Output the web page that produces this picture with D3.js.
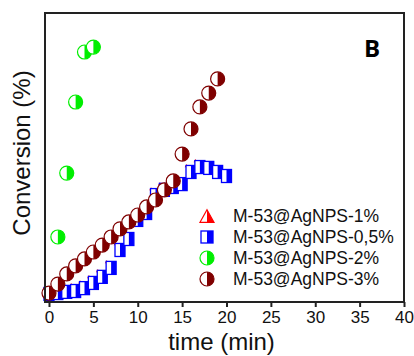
<!DOCTYPE html>
<html>
<head>
<meta charset="utf-8">
<script src="https://cdn.jsdelivr.net/npm/d3@7"></script>
<style>
  body { margin: 0; background: #fff; }
  text { font-family: "Liberation Sans", Arial, sans-serif; }
</style>
</head>
<body>
<script>
// data (conversion in %, time in min)
var timeBlue = [0, 1, 2, 3, 4, 5, 6, 7, 8, 9, 10, 11, 12, 13, 14, 15, 16, 17, 18, 19, 20];
var convBlue = [2.8, 3.1, 3.5, 3.8, 4.8, 6.6, 8.7, 11.8, 18.0, 21.8, 28.4, 30.8, 37.0, 38.8, 39.8, 40.8, 45.0, 46.7, 46.4, 45.0, 43.6];

var timeRed = [-0.5, 0.5, 1.5, 2.5, 3.5, 4.5, 5.5, 6.5, 7.5, 8.5, 9.5, 10.5, 11.5, 12.5, 13.5, 14.5, 15.5, 16.5, 17.5, 18.5, 19.5];
var convRed = [4.8, 5.1, 5.5, 5.8, 6.8, 8.6, 10.7, 13.8, 20.0, 23.8, 30.4, 32.8, 39.0, 40.8, 41.8, 42.8, 47.0, 48.7, 48.4, 47.0, 45.6];

var timeGreen = [1, 2, 3, 4, 5];
var convGreen = [22.5, 44.6, 69.2, 86.5, 88.2];

var timeBrown = [0, 1, 2, 3, 4, 5, 6, 7, 8, 9, 10, 11, 12, 13, 14, 15, 16, 17, 18, 19];
var convBrown = [3.1, 6.2, 9.7, 12.5, 14.9, 17.3, 19.7, 22.5, 25.3, 27.7, 30.1, 32.9, 35.3, 38.8, 41.9, 51.2, 59.9, 67.5, 72.3, 77.2];

var xTicks = [0, 5, 10, 15, 20, 25, 30, 35, 40];
var legendLabels = ["M-53@AgNPS-1%", "M-53@AgNPS-0,5%", "M-53@AgNPS-2%", "M-53@AgNPS-3%"];

var width = 414, height = 356;
var mLeft = 45, mRight = 404, mTop = 13, mBottom = 302;

var svg = d3.select("body").append("svg")
    .attr("width", width)
    .attr("height", height);

var x = d3.scaleLinear().domain([-0.45, 40]).range([mLeft, mRight]);
var y = d3.scaleLinear().domain([0, 100]).range([mBottom, mTop]);

// half-filled markers: left half white, right half coloured
function circleMark(g, color, r) {
    g.append("circle").attr("r", r).attr("fill", "#fff").attr("stroke", color).attr("stroke-width", 1.2);
    g.append("path").attr("d", "M0," + (-r) + "A" + r + "," + r + " 0 0 1 0," + r + "Z").attr("fill", color);
}
function squareMark(g, color, w, h) {
    g.append("rect").attr("x", -w / 2).attr("y", -h / 2).attr("width", w).attr("height", h)
        .attr("fill", "#fff").attr("stroke", color).attr("stroke-width", 1.3);
    g.append("rect").attr("x", 0).attr("y", -h / 2).attr("width", w / 2).attr("height", h).attr("fill", color);
}
function triMark(g, color, s) {
    var h = s * 0.9;
    g.append("path").attr("d", "M0," + (-h / 2) + "L" + (s / 2) + "," + (h / 2) + "L" + (-s / 2) + "," + (h / 2) + "Z")
        .attr("fill", "#fff").attr("stroke", color).attr("stroke-width", 1.2);
    g.append("path").attr("d", "M0," + (-h / 2) + "L" + (s / 2) + "," + (h / 2) + "L0," + (h / 2) + "Z").attr("fill", color);
}

var plot = svg.append("g");

// red tiny triangles
plot.selectAll(".red").data(d3.zip(timeRed, convRed)).enter().append("path")
    .attr("class", "red")
    .attr("transform", d => "translate(" + x(d[0]) + "," + y(d[1]) + ")")
    .attr("d", d3.symbol(d3.symbolTriangle, 6))
    .attr("fill", "#ff0000");

// blue squares
plot.selectAll(".blue").data(d3.zip(timeBlue, convBlue)).enter().append("g")
    .attr("class", "blue")
    .attr("transform", d => "translate(" + x(d[0]) + "," + y(d[1]) + ")")
    .each(function () { squareMark(d3.select(this), "#0000ff", 10, 13); });

// brown circles
plot.selectAll(".brown").data(d3.zip(timeBrown, convBrown)).enter().append("g")
    .attr("class", "brown")
    .attr("transform", d => "translate(" + x(d[0]) + "," + y(d[1]) + ")")
    .each(function () { circleMark(d3.select(this), "#7f0000", 7); });

// green circles
plot.selectAll(".green").data(d3.zip(timeGreen, convGreen)).enter().append("g")
    .attr("class", "green")
    .attr("transform", d => "translate(" + x(d[0]) + "," + y(d[1]) + ")")
    .each(function () { circleMark(d3.select(this), "#00ee00", 7); });

// frame
svg.append("rect")
    .attr("x", mLeft).attr("y", mTop)
    .attr("width", mRight - mLeft).attr("height", mBottom - mTop)
    .attr("fill", "none").attr("stroke", "#222").attr("stroke-width", 2);

// x axis
var xAxis = d3.axisBottom(x).tickValues(xTicks).tickSize(5).tickPadding(4);
var gx = svg.append("g").attr("transform", "translate(0," + mBottom + ")").call(xAxis);
gx.select(".domain").remove();
gx.selectAll(".tick line").attr("stroke", "#222").attr("stroke-width", 2);
gx.selectAll(".tick text").attr("font-size", 17).attr("fill", "#111")
    .style("font-family", "Liberation Sans, Arial, sans-serif");

svg.append("text")
    .attr("x", (x(-0.45) + x(40)) / 2 - 3).attr("y", 350)
    .attr("text-anchor", "middle").attr("font-size", 24).attr("fill", "#111")
    .text("time (min)");

svg.append("text")
    .attr("transform", "translate(30,153) rotate(-90)")
    .attr("text-anchor", "middle").attr("font-size", 24).attr("fill", "#111")
    .text("Conversion (%)");

svg.append("text")
    .attr("x", 372).attr("y", 57)
    .attr("text-anchor", "middle").attr("font-size", 24).attr("font-weight", "bold")
    .style("font-family", "Open Sans, Liberation Sans, sans-serif")
    .text("B");

// legend
var legY = [216, 237, 258, 279];
var leg = svg.append("g");
legendLabels.forEach(function (lab, i) {
    var g = leg.append("g").attr("transform", "translate(207," + legY[i] + ")");
    if (i == 0) triMark(g, "#ff0000", 14);
    if (i == 1) squareMark(g, "#0000ff", 12, 12);
    if (i == 2) circleMark(g, "#00ee00", 7);
    if (i == 3) circleMark(g, "#7f0000", 7);
    leg.append("text")
        .attr("x", 233).attr("y", legY[i]).attr("dy", "0.36em")
        .attr("font-size", 17.5).attr("fill", "#111")
        .text(lab);
});
</script>
</body>
</html>
